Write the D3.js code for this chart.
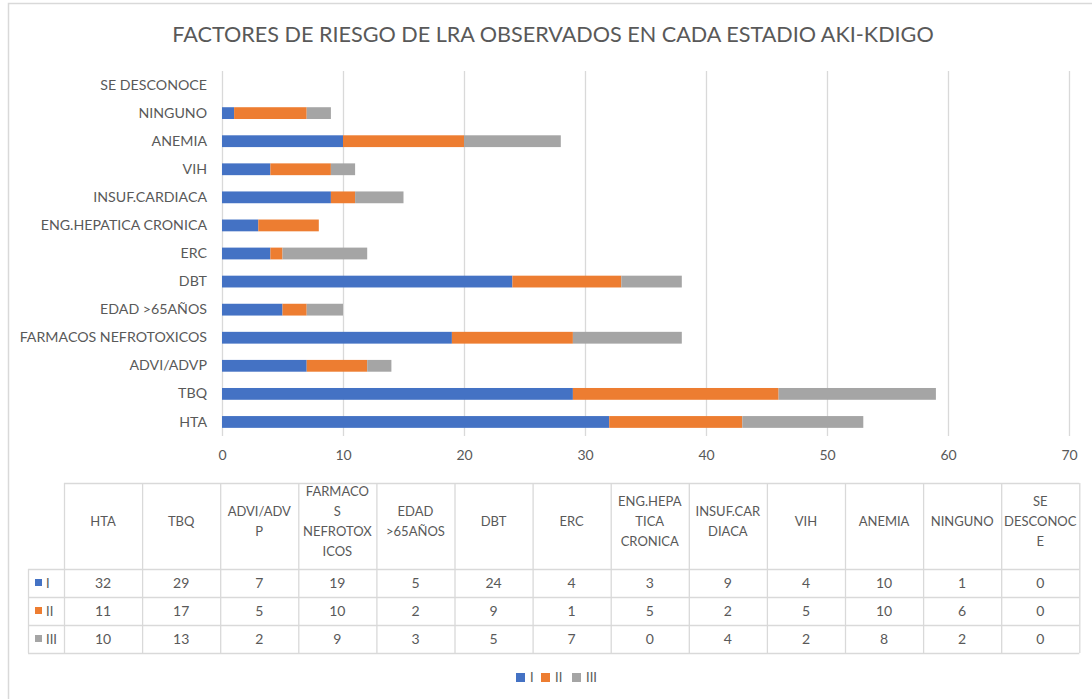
<!DOCTYPE html>
<html>
<head>
<meta charset="utf-8">
<script src="https://cdn.jsdelivr.net/npm/d3@7"></script>
<style>
  body { margin: 0; background: #fff; }
  svg { display: block; font-family: Lato, "Open Sans", sans-serif; }
</style>
</head>
<body>
<div id="chart"></div>
<script>
// data
const categories = ["HTA", "TBQ", "ADVI/ADVP", "FARMACOS NEFROTOXICOS", "EDAD >65AÑOS", "DBT", "ERC",
  "ENG.HEPATICA CRONICA", "INSUF.CARDIACA", "VIH", "ANEMIA", "NINGUNO", "SE DESCONOCE"];
const headerLines = [["HTA"], ["TBQ"], ["ADVI/ADV", "P"], ["FARMACO", "S", "NEFROTOX", "ICOS"],
  ["EDAD", ">65AÑOS"], ["DBT"], ["ERC"], ["ENG.HEPA", "TICA", "CRONICA"], ["INSUF.CAR", "DIACA"],
  ["VIH"], ["ANEMIA"], ["NINGUNO"], ["SE", "DESCONOC", "E"]];
const seriesNames = ["I", "II", "III"];
const stageI = [32, 29, 7, 19, 5, 24, 4, 3, 9, 4, 10, 1, 0];
const stageII = [11, 17, 5, 10, 2, 9, 1, 5, 2, 5, 10, 6, 0];
const stageIII = [10, 13, 2, 9, 3, 5, 7, 0, 4, 2, 8, 2, 0];
const xTicks = [0, 10, 20, 30, 40, 50, 60, 70];
const colors = ["#4472C4", "#ED7D31", "#A5A5A5"];
const title = "FACTORES DE RIESGO DE LRA OBSERVADOS EN CADA ESTADIO AKI-KDIGO";

const width = 1092, height = 699;
const margin = { top: 71, left: 222, right: 23, bottom: 263 };
const textColor = "#595959", gridColor = "#d9d9d9";

const rows = categories.map((c, i) => ({ cat: c, I: stageI[i], II: stageII[i], III: stageIII[i] }));
const stack = d3.stack().keys(seriesNames)(rows);

const svg = d3.select("#chart").append("svg")
  .attr("width", width).attr("height", height);

// chart frame
svg.append("rect")
  .attr("x", 8.5).attr("y", 3.5)
  .attr("width", width + 20).attr("height", height + 20)
  .attr("fill", "none").attr("stroke", gridColor).attr("stroke-width", 1.5);

svg.append("text")
  .attr("x", 553).attr("y", 42)
  .attr("text-anchor", "middle")
  .attr("fill", textColor)
  .style("font-size", "21.6px")
  .text(title);

const x = d3.scaleLinear().domain([0, 70]).range([margin.left, width - margin.right]);
const y = d3.scaleBand()
  .domain(categories.slice().reverse())
  .range([margin.top, height - margin.bottom])
  .paddingInner(0.58).paddingOuter(0.29);

// gridlines
svg.append("g")
  .selectAll("line")
  .data(xTicks)
  .join("line")
  .attr("x1", d => x(d) + 0.5).attr("x2", d => x(d) + 0.5)
  .attr("y1", margin.top).attr("y2", height - margin.bottom)
  .attr("stroke", gridColor).attr("stroke-width", 1.3);

// tick labels
const xAxis = d3.axisBottom(x).tickValues(xTicks).tickSize(0).tickPadding(14);
svg.append("g")
  .attr("transform", `translate(0, ${height - margin.bottom})`)
  .call(xAxis)
  .call(g => g.select(".domain").remove())
  .selectAll("text")
  .attr("fill", textColor)
  .style("font-size", "14px")
  .style("font-family", "Lato, sans-serif");

const yAxis = d3.axisLeft(y).tickSize(0).tickPadding(15);
svg.append("g")
  .attr("transform", `translate(${margin.left}, 0)`)
  .call(yAxis)
  .call(g => g.select(".domain").remove())
  .selectAll("text")
  .attr("fill", textColor)
  .style("font-size", "14.2px")
  .style("font-family", "Lato, sans-serif");

// bars
svg.append("g")
  .selectAll("g")
  .data(stack)
  .join("g")
  .attr("fill", (d, i) => colors[i])
  .selectAll("rect")
  .data(d => d)
  .join("rect")
  .attr("x", d => x(d[0]))
  .attr("y", d => y(d.data.cat))
  .attr("width", d => x(d[1]) - x(d[0]))
  .attr("height", y.bandwidth());

// data table
const tableLeft = 64, legendLeft = 28, colW = 78.1;
const headTop = 483, headH = 86, rowH = 28;
const table = svg.append("g").attr("class", "table");
const tableRight = tableLeft + colW * categories.length;
const bottom = headTop + headH + rowH * 3;

// horizontal lines
const hLines = [{ y: headTop, x1: tableLeft }, { y: headTop + headH, x1: legendLeft }]
  .concat(d3.range(1, 4).map(k => ({ y: headTop + headH + rowH * k, x1: legendLeft })));
table.selectAll("line.h")
  .data(hLines)
  .join("line")
  .attr("class", "h")
  .attr("x1", d => d.x1).attr("x2", tableRight)
  .attr("y1", d => d.y + 0.5).attr("y2", d => d.y + 0.5)
  .attr("stroke", gridColor).attr("stroke-width", 1.3);

// vertical lines
const vLines = [{ x: legendLeft, y1: headTop + headH }]
  .concat(d3.range(0, categories.length + 1).map(k => ({ x: tableLeft + colW * k, y1: headTop })));
table.selectAll("line.v")
  .data(vLines)
  .join("line")
  .attr("class", "v")
  .attr("x1", d => d.x + 0.5).attr("x2", d => d.x + 0.5)
  .attr("y1", d => d.y1).attr("y2", bottom)
  .attr("stroke", gridColor).attr("stroke-width", 1.3);

// header text
const head = table.selectAll("text.head")
  .data(headerLines)
  .join("text")
  .attr("class", "head")
  .attr("text-anchor", "middle")
  .attr("fill", textColor)
  .style("font-size", "13px")
  .attr("transform", (d, i) => `translate(${tableLeft + colW * (i + 0.5)}, ${521 - (d.length - 1) * 10})`);
head.selectAll("tspan")
  .data(d => d)
  .join("tspan")
  .attr("x", 0)
  .attr("dy", (d, i) => i === 0 ? "0.35em" : 20)
  .text(d => d);

// values
const seriesVals = [stageI, stageII, stageIII];
seriesVals.forEach((vals, r) => {
  const cy = headTop + headH + rowH * (r + 0.5);
  table.selectAll(`text.v${r}`)
    .data(vals)
    .join("text")
    .attr("class", `v${r}`)
    .attr("x", (d, i) => tableLeft + colW * (i + 0.5))
    .attr("y", cy)
    .attr("dy", "0.35em")
    .attr("text-anchor", "middle")
    .attr("fill", textColor)
    .style("font-size", "14px")
    .text(d => d);
  table.append("rect")
    .attr("x", 35).attr("y", cy - 4)
    .attr("width", 7).attr("height", 7)
    .attr("fill", colors[r]);
  table.append("text")
    .attr("x", 46).attr("y", cy)
    .attr("dy", "0.35em")
    .attr("fill", textColor)
    .style("font-size", "13px")
    .text(seriesNames[r]);
});

// legend
const legendItems = [{ name: "I", x: 516 }, { name: "II", x: 541 }, { name: "III", x: 572 }];
const legend = svg.append("g").attr("transform", "translate(0, 677)");
legend.selectAll("rect")
  .data(legendItems)
  .join("rect")
  .attr("x", d => d.x).attr("y", -4)
  .attr("width", 9).attr("height", 9)
  .attr("fill", (d, i) => colors[i]);
legend.selectAll("text")
  .data(legendItems)
  .join("text")
  .attr("x", d => d.x + 14).attr("y", 0)
  .attr("dy", "0.35em")
  .attr("fill", textColor)
  .style("font-size", "13px")
  .text(d => d.name);
</script>
</body>
</html>
